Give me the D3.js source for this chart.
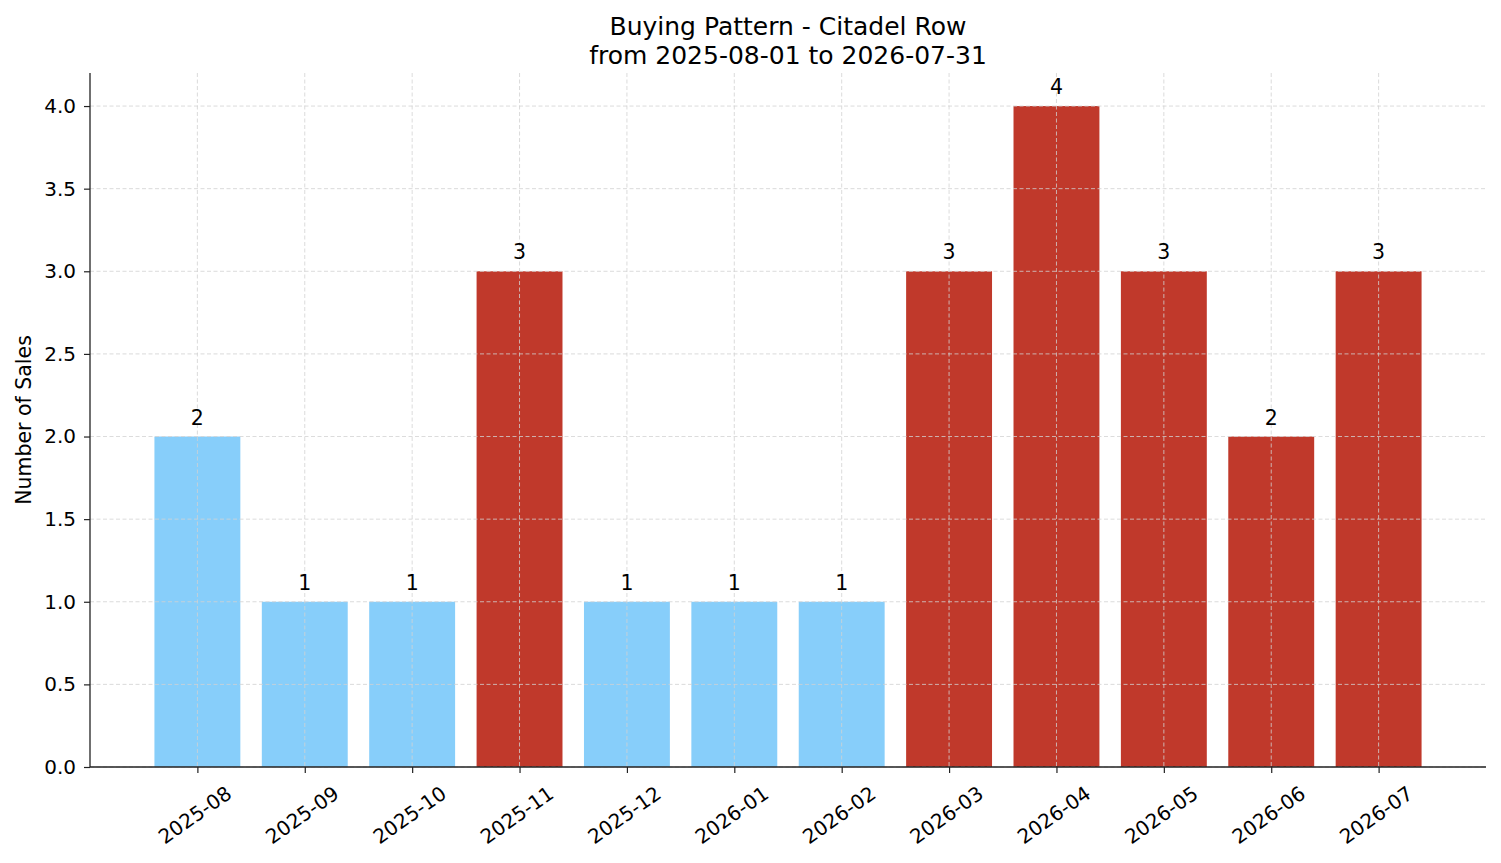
<!DOCTYPE html>
<meta charset="utf-8">
<style type="text/css">
    body { margin: 0; background: #fff; }
    svg text { font-family: "DejaVu Sans", sans-serif; fill: #000; }
    .grid line { stroke: #d2d2d2; stroke-width: 0.8; stroke-dasharray: 4,2.5; }
    .spine { stroke: #222; stroke-width: 1.3; }
</style>
<body></body>
<script src="https://d3js.org/d3.v7.min.js"></script>
<script>
// chart data
var months = ["2025-08", "2025-09", "2025-10", "2025-11", "2025-12", "2026-01",
              "2026-02", "2026-03", "2026-04", "2026-05", "2026-06", "2026-07"];
var sales = [2, 1, 1, 3, 1, 1, 1, 3, 4, 3, 2, 3];
// which months are drawn in the highlight colour
var highlighted = [false, false, false, true, false, false, false, true, true, true, true, true];
var yTicks = [0, 0.5, 1, 1.5, 2, 2.5, 3, 3.5, 4];

var titleLines = ["Buying Pattern - Citadel Row", "from 2025-08-01 to 2026-07-31"];
var yLabel = "Number of Sales";

var W = 1501, H = 863;
var margin = {top: 73, right: 15, bottom: 96, left: 90};

var svg = d3.select("body").append("svg")
    .attr("width", W)
    .attr("height", H);

// x: category index, with one slot of padding each side like matplotlib
var xScale = d3.scaleLinear()
    .domain([-1, months.length])
    .range([margin.left, W - margin.right]);

var yScale = d3.scaleLinear()
    .domain([0, 4.2])
    .range([H - margin.bottom, margin.top]);

var bw = (xScale(0.8) - xScale(0));

// bars
svg.append("g").selectAll("rect")
    .data(sales)
    .enter().append("rect")
    .attr("x", function (d, i) { return xScale(i) - bw / 2; })
    .attr("y", function (d) { return yScale(d); })
    .attr("width", bw)
    .attr("height", function (d) { return yScale(0) - yScale(d); })
    .attr("fill", function (d, i) { return highlighted[i] ? "#c0392b" : "#87cefa"; });

// grid sits on top of the bars
var grid = svg.append("g").attr("class", "grid");
grid.selectAll(".gy")
    .data(yTicks)
    .enter().append("line")
    .attr("x1", margin.left).attr("x2", W - margin.right)
    .attr("y1", function (d) { return yScale(d); })
    .attr("y2", function (d) { return yScale(d); });
grid.selectAll(".gx")
    .data(months)
    .enter().append("line")
    .attr("x1", function (d, i) { return xScale(i); })
    .attr("x2", function (d, i) { return xScale(i); })
    .attr("y1", margin.top).attr("y2", yScale(0));

// bar value labels
svg.append("g").selectAll("text")
    .data(sales)
    .enter().append("text")
    .attr("x", function (d, i) { return xScale(i); })
    .attr("y", function (d) { return yScale(d) - 12; })
    .attr("text-anchor", "middle")
    .style("font-size", "20.5px")
    .text(function (d) { return d; });

// y axis
var yAxis = svg.append("g")
    .attr("transform", "translate(" + margin.left + ",0)")
    .call(d3.axisLeft(yScale).tickValues(yTicks).tickFormat(d3.format(".1f")).tickSize(6).tickPadding(8));
yAxis.select(".domain").remove();
yAxis.selectAll(".tick line").attr("stroke", "#222").attr("stroke-width", 1.2);
yAxis.selectAll("text").style("font-size", "20px").style("font-family", "DejaVu Sans");

// x axis
var xAxis = svg.append("g")
    .attr("transform", "translate(0," + yScale(0) + ")")
    .call(d3.axisBottom(xScale).tickValues(d3.range(months.length))
        .tickFormat(function (i) { return months[i]; }).tickSize(6));
xAxis.select(".domain").remove();
xAxis.selectAll(".tick line").attr("stroke", "#222").attr("stroke-width", 1.2);
xAxis.selectAll("text")
    .style("font-size", "20px")
    .style("font-family", "DejaVu Sans")
    .attr("text-anchor", "middle")
    .attr("dy", null)
    .attr("dominant-baseline", "central")
    .attr("transform", "translate(-3,48) rotate(-35)")
    .attr("y", 0);

// spines
svg.append("line").attr("class", "spine")
    .attr("x1", margin.left).attr("x2", margin.left)
    .attr("y1", margin.top).attr("y2", yScale(0));
svg.append("line").attr("class", "spine")
    .attr("x1", margin.left).attr("x2", W - margin.right)
    .attr("y1", yScale(0)).attr("y2", yScale(0));

// y label
svg.append("text")
    .attr("transform", "translate(31," + ((margin.top + yScale(0)) / 2) + ") rotate(-90)")
    .attr("text-anchor", "middle")
    .style("font-size", "20.5px")
    .text(yLabel);

// title
svg.append("g").selectAll("text")
    .data(titleLines)
    .enter().append("text")
    .attr("x", (margin.left + W - margin.right) / 2)
    .attr("y", function (d, i) { return 35 + i * 28.8; })
    .attr("text-anchor", "middle")
    .style("font-size", "25px")
    .text(function (d) { return d; });
</script>
